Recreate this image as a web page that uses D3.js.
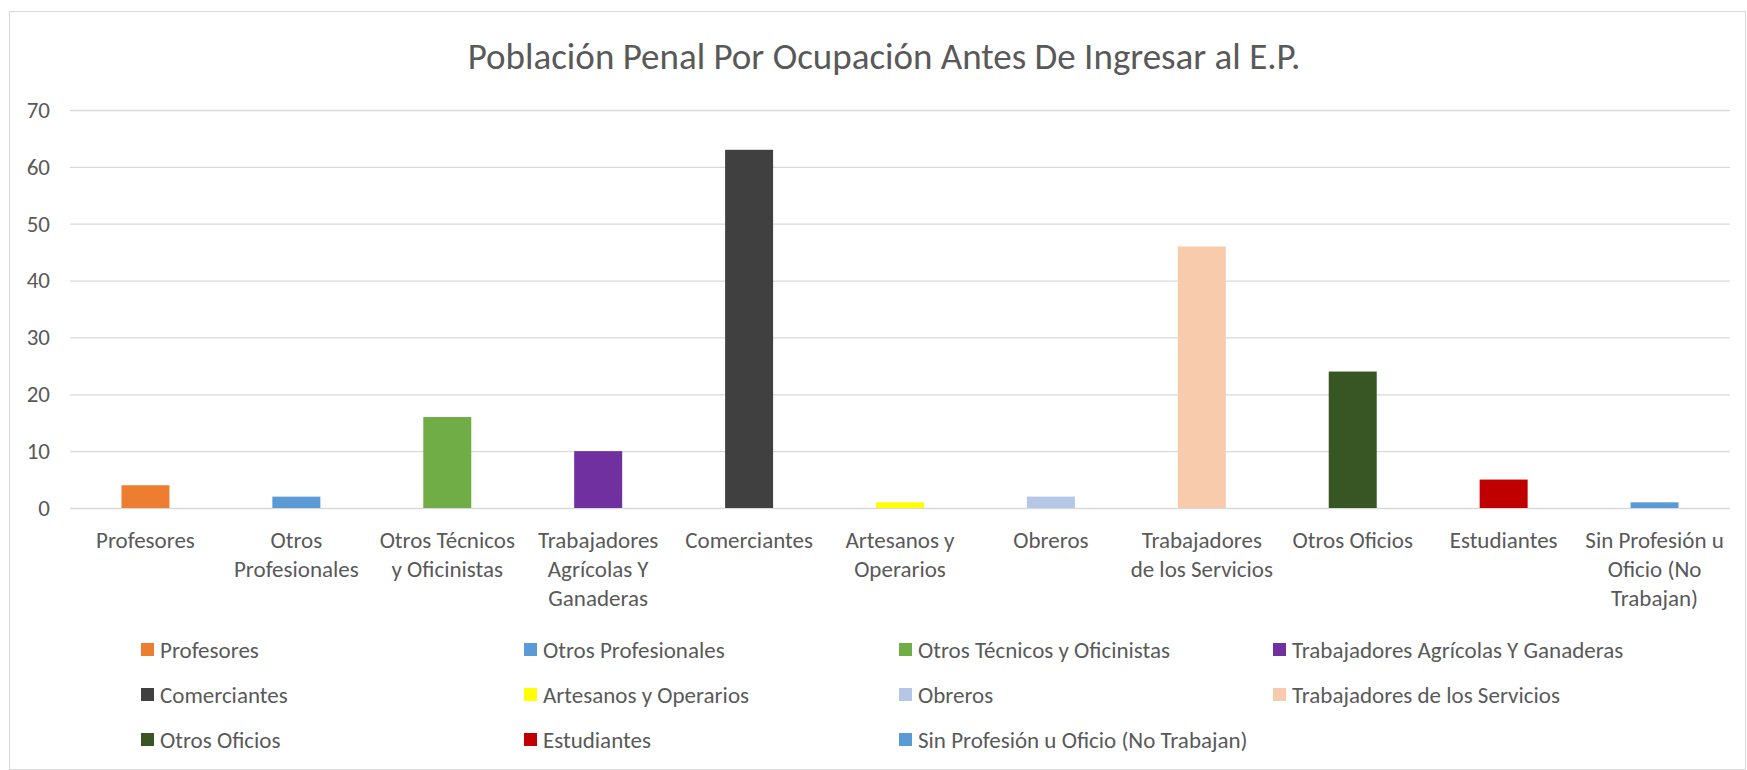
<!DOCTYPE html>
<html>
<head>
<meta charset="utf-8">
<script src="https://cdn.jsdelivr.net/npm/d3@7"></script>
<style>
  body { margin: 0; background: #fff; }
  text { font-family: Carlito, Lato, "Open Sans", sans-serif; fill: #595959; }
</style>
</head>
<body>
<div id="chart"></div>
<script>
// 数据
const categories = [
  'Profesores', 'Otros Profesionales', 'Otros Técnicos y Oficinistas',
  'Trabajadores Agrícolas Y Ganaderas', 'Comerciantes', 'Artesanos y Operarios',
  'Obreros', 'Trabajadores de los Servicios', 'Otros Oficios', 'Estudiantes',
  'Sin Profesión u Oficio (No Trabajan)'
];
const values = [4, 2, 16, 10, 63, 1, 2, 46, 24, 5, 1];
const colors = [
  '#ED7D31', '#5B9BD5', '#70AD47', '#7030A0', '#404040', '#FFFF00',
  '#B4C7E7', '#F8CBAD', '#375623', '#C00000', '#5B9BD5'
];
// 轴标签（按原图换行）
const tickLabels = [
  ['Profesores'], ['Otros', 'Profesionales'], ['Otros Técnicos', 'y Oficinistas'],
  ['Trabajadores', 'Agrícolas Y', 'Ganaderas'], ['Comerciantes'], ['Artesanos y', 'Operarios'],
  ['Obreros'], ['Trabajadores', 'de los Servicios'], ['Otros Oficios'], ['Estudiantes'],
  ['Sin Profesión u', 'Oficio (No', 'Trabajan)']
];
const yTicks = [0, 10, 20, 30, 40, 50, 60, 70];
const title = 'Población Penal Por Ocupación Antes De Ingresar al E.P.';

const width = 1747, height = 770;
const plot = { left: 70, right: 1730, top: 110, bottom: 508 };
const labelSize = '23px';

const svg = d3.select('#chart').append('svg')
  .attr('width', width)
  .attr('height', height);

// 外框
svg.append('rect')
  .attr('x', 9.5).attr('y', 11.5)
  .attr('width', 1736).attr('height', 758)
  .attr('fill', 'none')
  .attr('stroke', '#d9d9d9');

// 标题
svg.append('text')
  .attr('x', 884).attr('y', 69)
  .attr('text-anchor', 'middle')
  .style('font-size', '37px')
  .text(title);

// 比例尺
const x = d3.scaleBand()
  .domain(categories)
  .range([plot.left, plot.right])
  .paddingInner(0.682)
  .paddingOuter(0.341);

const y = d3.scaleLinear()
  .domain([0, 70])
  .range([plot.bottom, plot.top]);

// 网格线 + Y轴
const yAxis = svg.append('g')
  .attr('transform', `translate(${plot.left}, 0)`)
  .call(d3.axisLeft(y).tickValues(yTicks).tickSize(-(plot.right - plot.left)).tickPadding(20));
yAxis.select('.domain').remove();
yAxis.selectAll('line').attr('stroke', '#d9d9d9').attr('stroke-width', 1.3);
yAxis.selectAll('text')
  .style('font-size', labelSize)
  .style('font-family', 'Carlito, Lato, "Open Sans", sans-serif')
  .attr('fill', '#595959');

// 柱子
svg.selectAll('.bar')
  .data(values)
  .enter()
  .append('rect')
  .attr('class', 'bar')
  .attr('x', (d, i) => x(categories[i]))
  .attr('y', d => y(d))
  .attr('width', x.bandwidth())
  .attr('height', d => y(0) - y(d))
  .attr('fill', (d, i) => colors[i]);

// X轴标签
const xLabels = svg.append('g').attr('class', 'x-labels');
categories.forEach((c, i) => {
  const t = xLabels.append('text')
    .attr('x', x(c) + x.bandwidth() / 2)
    .attr('y', 548)
    .attr('text-anchor', 'middle')
    .style('font-size', labelSize);
  tickLabels[i].forEach((line, j) => {
    t.append('tspan')
      .attr('x', x(c) + x.bandwidth() / 2)
      .attr('dy', j === 0 ? 0 : 29)
      .text(line);
  });
});

// 图例
const legendCols = [141, 524, 899, 1273];
const legendRows = [650, 695, 740];
const legend = svg.append('g').attr('class', 'legend');
categories.forEach((c, i) => {
  const gx = legendCols[i % 4], gy = legendRows[Math.floor(i / 4)];
  const item = legend.append('g').attr('transform', `translate(${gx}, ${gy})`);
  item.append('rect')
    .attr('x', 0).attr('y', -7)
    .attr('width', 13).attr('height', 13)
    .attr('fill', colors[i]);
  item.append('text')
    .attr('x', 19).attr('y', 7.5)
    .style('font-size', labelSize)
    .text(c);
});
</script>
</body>
</html>
